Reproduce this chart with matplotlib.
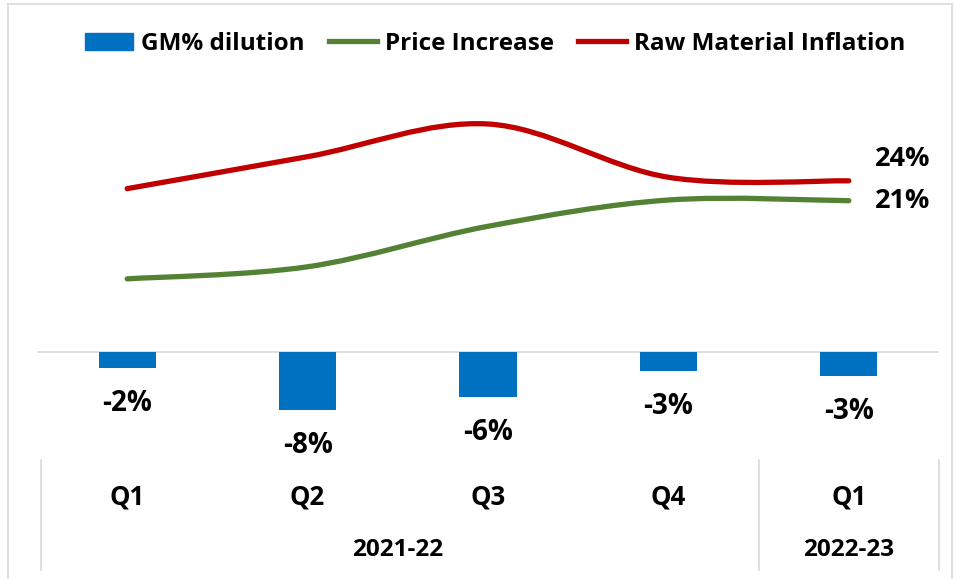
import numpy as np
import matplotlib.pyplot as plt
from matplotlib.path import Path
from matplotlib.patches import PathPatch, Patch
from matplotlib.lines import Line2D

plt.rcParams['font.family'] = ['Open Sans', 'DejaVu Sans']
plt.rcParams['font.weight'] = 'bold'

# данные
quarters = ['Q1', 'Q2', 'Q3', 'Q4', 'Q1']
years = ['2021-22', '2022-23']
year_span = [(0, 3), (4, 4)]
gm_dilution = [-2.3, -8.2, -6.3, -2.7, -3.4]
price_increase = [10.3, 12.0, 17.7, 21.4, 21.3]
raw_material = [23.0, 27.5, 32.1, 24.6, 24.1]

BLUE = '#0070C0'
GREEN = '#548235'
RED = '#C00000'
GRID = '#D9D9D9'


# сглаженная линия как в Excel (кривые Безье через точки)
def smooth_path(x, y):
    x = np.asarray(x, float)
    y = np.asarray(y, float)
    px = np.r_[x[0], x, x[-1]]
    py = np.r_[y[0], y, y[-1]]
    verts = [(x[0], y[0])]
    codes = [Path.MOVETO]
    for i in range(1, len(x)):
        c1 = (px[i] + (px[i + 1] - px[i - 1]) / 6, py[i] + (py[i + 1] - py[i - 1]) / 6)
        c2 = (px[i + 1] - (px[i + 2] - px[i]) / 6, py[i + 1] - (py[i + 2] - py[i]) / 6)
        verts += [c1, c2, (x[i], y[i])]
        codes += [Path.CURVE4] * 3
    return Path(verts, codes)


fig = plt.figure(figsize=(9.55, 5.79), dpi=100)
ax = fig.add_axes([37 / 955, 1 - 460 / 579, 902 / 955, 390 / 579])
ax.set_xlim(-0.5, 4.5)
ax.set_ylim(-15.2, 39.7)
ax.axis('off')

x = np.arange(len(quarters))
ax.bar(x, gm_dilution, width=0.316, color=BLUE, zorder=2)
ax.axhline(0, color=GRID, lw=1.2, zorder=1)

for xi, v in zip(x, gm_dilution):
    ax.annotate(f'{v:.0f}%', (xi, v), xytext=(0, -25.5), textcoords='offset points',
                ha='center', va='center', fontsize=20, fontweight='bold')

ax.add_patch(PathPatch(smooth_path(x, price_increase), fill=False, ec=GREEN, lw=3.8,
                       capstyle='round', zorder=3))
ax.add_patch(PathPatch(smooth_path(x, raw_material), fill=False, ec=RED, lw=3.8,
                       capstyle='round', zorder=3))

ax.annotate(f'{raw_material[-1]:.0f}%', (x[-1], raw_material[-1]), xytext=(18.5, 15.5),
            textcoords='offset points', ha='left', va='center', fontsize=19.5, fontweight='bold')
ax.annotate(f'{price_increase[-1]:.0f}%', (x[-1], price_increase[-1]), xytext=(18.5, 0),
            textcoords='offset points', ha='left', va='center', fontsize=19.5, fontweight='bold')

# ось категорий
tr = ax.get_xaxis_transform()
for xi, q in zip(x, quarters):
    ax.text(xi, -0.096, q, transform=tr, ha='center', va='center', fontsize=18.5, fontweight='bold')
for name, (a, b) in zip(years, year_span):
    ax.text((a + b) / 2, -0.232, name, transform=tr, ha='center', va='center',
            fontsize=17.5, fontweight='bold')
for xs in [-0.48, 3.5, 4.5]:
    ax.plot([xs, xs], [0, -0.283], transform=tr, color=GRID, lw=1.2, clip_on=False)

# рамка
fig.add_artist(Line2D([8 / 955, 8 / 955], [0, 1 - 4 / 579], color=GRID, lw=1.2))
fig.add_artist(Line2D([8 / 955, 952 / 955], [1 - 4 / 579, 1 - 4 / 579], color=GRID, lw=1.2))
fig.add_artist(Line2D([952 / 955, 952 / 955], [0, 1 - 4 / 579], color=GRID, lw=1.2))

handles = [Patch(color=BLUE), Line2D([], [], color=GREEN, lw=3.8),
           Line2D([], [], color=RED, lw=3.8)]
labels = ['GM% dilution', 'Price Increase', 'Raw Material Inflation']
fig.legend(handles, labels, loc='center', bbox_to_anchor=(495 / 955, 1 - 44 / 579), ncol=3,
           frameon=False, handlelength=2.0, handletextpad=0.3,
           columnspacing=1.0, prop={'weight': 'bold', 'size': 17.5})

fig.savefig('out.png', dpi=100)
